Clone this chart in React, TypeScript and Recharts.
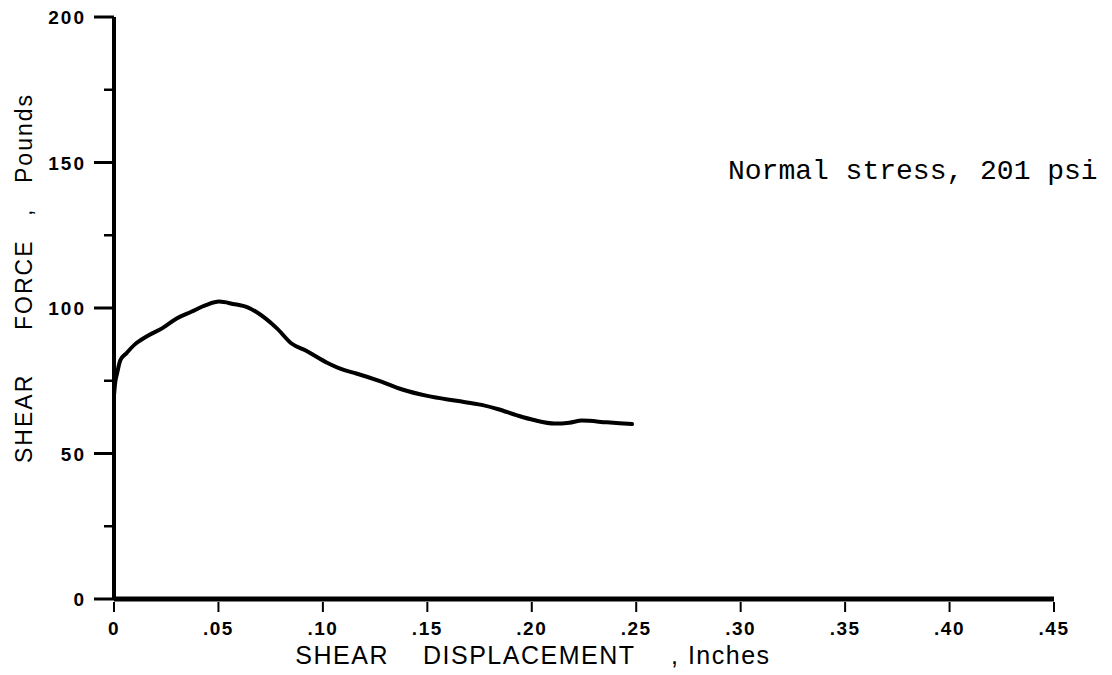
import React from 'react';
import { LineChart, Line, XAxis, YAxis, Customized } from 'recharts';

// Shear displacement (inches)
const displacement = [
  0, 0.0005, 0.0015, 0.003, 0.006, 0.01, 0.016, 0.023, 0.03, 0.037, 0.044, 0.0503,
  0.057, 0.064, 0.068, 0.078, 0.085, 0.092, 0.102, 0.11, 0.116, 0.128, 0.138, 0.15,
  0.164, 0.176, 0.184, 0.193, 0.201, 0.211, 0.218, 0.224, 0.236, 0.248,
];
// Shear force (pounds)
const shearForce = [
  70, 74, 77.6, 82, 84.5, 87.5, 90.4, 93, 96.4, 98.7, 101, 102.2,
  101.4, 100.2, 98.7, 93, 87.8, 85.3, 81.2, 78.7, 77.5, 74.7, 72, 69.8,
  68.1, 66.7, 65.2, 63.1, 61.5, 60.3, 60.6, 61.3, 60.7, 60.1,
];

const xTicks = [0, 0.05, 0.1, 0.15, 0.2, 0.25, 0.3, 0.35, 0.4, 0.45];
const xTickLabels = ['0', '.05', '.10', '.15', '.20', '.25', '.30', '.35', '.40', '.45'];
const yTicks = [0, 25, 50, 75, 100, 125, 150, 175, 200];
const yMajorTicks = [0, 50, 100, 150, 200];

const xTitleWords = ['SHEAR', 'DISPLACEMENT', ', Inches'];
const yTitleWords = ['SHEAR', 'FORCE', ',', 'Pounds'];
const annotationText = 'Normal stress, 201 psi';

const data = displacement.map((x, i) => ({ x, force: shearForce[i] }));

const SANS = "'Liberation Sans', Arial, Helvetica, sans-serif";
const MONO = "'Courier New', 'Liberation Mono', monospace";

const XTick = (props: any) => {
  const { x, y, payload } = props;
  const idx = xTicks.findIndex((t) => Math.abs(t - payload.value) < 1e-9);
  const label = idx >= 0 ? xTickLabels[idx] : '';
  return (
    <g>
      <line x1={x} x2={x} y1={y + 3} y2={y + 13} stroke="#000" strokeWidth={2} />
      <text
        x={x}
        y={y + 36}
        textAnchor="middle"
        fontFamily={SANS}
        fontWeight="bold"
        fontSize={19}
        letterSpacing={1.5}
        fill="#000"
      >
        {label}
      </text>
    </g>
  );
};

const YTick = (props: any) => {
  const { x, y, payload } = props;
  const major = yMajorTicks.includes(payload.value);
  return (
    <g>
      <line
        x1={x - (major ? 20 : 10)}
        x2={x}
        y1={y}
        y2={y}
        stroke="#000"
        strokeWidth={major ? 3 : 2.5}
      />
      {major && (
        <text
          x={x - 28}
          y={y + 7}
          textAnchor="end"
          fontFamily={SANS}
          fontWeight="bold"
          fontSize={19}
          letterSpacing={2}
          fill="#000"
        >
          {String(payload.value)}
        </text>
      )}
    </g>
  );
};

const Annotations = () => {
  const yStarts = [463, 330, 216, 183];
  return (
    <g>
      {/* X axis title */}
      <text x={389} y={664} textAnchor="end" fontFamily={SANS} fontSize={25} letterSpacing={1.5} fill="#000">
        {xTitleWords[0]}
      </text>
      <text x={423} y={664} textAnchor="start" fontFamily={SANS} fontSize={25} letterSpacing={1.5} fill="#000">
        {xTitleWords[1]}
      </text>
      <text x={671} y={664} textAnchor="start" fontFamily={SANS} fontSize={25} letterSpacing={1.5} fill="#000" style={{ whiteSpace: 'pre' }}>
        {xTitleWords[2]}
      </text>
      {/* Y axis title */}
      {yTitleWords.map((w, i) => (
        <text
          key={w + i}
          transform={`translate(32, ${yStarts[i]}) rotate(-90)`}
          textAnchor="start"
          fontFamily={SANS}
          fontSize={23}
          letterSpacing={2}
          fill="#000"
        >
          {w}
        </text>
      ))}
      {/* Annotation */}
      <text x={728} y={179} fontFamily={MONO} fontSize={28} fill="#000" style={{ whiteSpace: 'pre' }}>
        {annotationText}
      </text>
    </g>
  );
};

export default function App() {
  return (
    <div style={{ position: 'absolute', left: 0, top: 0, width: 1112, height: 675, background: '#fff' }}>
      <LineChart width={1112} height={675} data={data} margin={{ top: 17, right: 58, bottom: 0, left: 0 }}>
        <XAxis
          type="number"
          dataKey="x"
          domain={[0, 0.45]}
          ticks={xTicks}
          interval={0}
          height={76}
          tickSize={0}
          tickMargin={0}
          tickLine={false}
          axisLine={{ stroke: '#000', strokeWidth: 5 }}
          tick={<XTick />}
          allowDataOverflow
        />
        <YAxis
          type="number"
          domain={[0, 200]}
          ticks={yTicks}
          interval={0}
          width={114}
          tickSize={0}
          tickMargin={0}
          tickLine={false}
          axisLine={{ stroke: '#000', strokeWidth: 4 }}
          tick={<YTick />}
          allowDataOverflow
        />
        <Line
          type="monotone"
          dataKey="force"
          stroke="#000"
          strokeWidth={4}
          strokeLinejoin="round"
          strokeLinecap="round"
          dot={false}
          activeDot={false}
          isAnimationActive={false}
        />
        <Customized component={Annotations} />
      </LineChart>
    </div>
  );
}
